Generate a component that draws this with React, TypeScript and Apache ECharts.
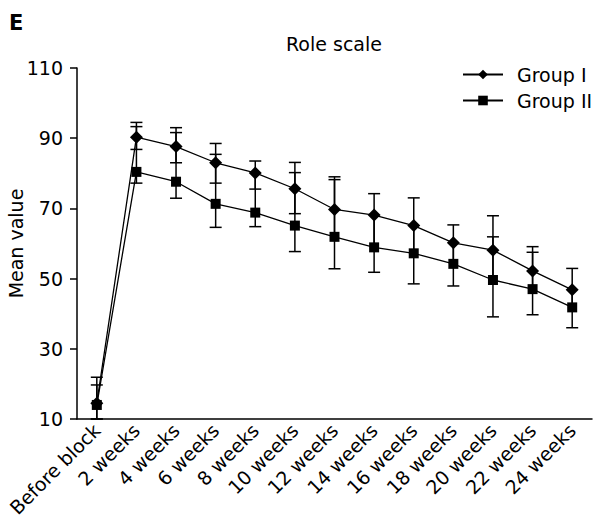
import React, { useEffect, useRef } from "react";
import * as echarts from "echarts";

const categories = [
  "Before block", "2 weeks", "4 weeks", "6 weeks", "8 weeks", "10 weeks", "12 weeks",
  "14 weeks", "16 weeks", "18 weeks", "20 weeks", "22 weeks", "24 weeks",
];
const groupI = [14.5, 90.3, 87.6, 83.0, 80.1, 75.6, 69.7, 68.1, 65.1, 60.2, 58.1, 52.2, 46.8];
const groupII = [14.0, 80.4, 77.6, 71.3, 68.8, 65.1, 61.9, 58.9, 57.2, 54.2, 49.6, 47.0, 41.8];
const groupIHigh = [21.9, 94.5, 93.0, 88.5, 83.5, 83.1, 79.0, 74.2, 73.0, 65.3, 67.9, 59.1, 52.9];
const groupILow: (number | null)[] = [10, 86.8, 83.0, 77.2, 75.5, 68.5, null, null, null, null, null, null, null];
const groupIIHigh: (number | null)[] = [19.7, 93.3, 91.6, 85.4, null, 80.2, 78.2, null, null, null, 61.9, 57.5, null];
const groupIILow = [10, 77.2, 72.9, 64.6, 64.8, 57.7, 52.8, 51.8, 48.5, 47.9, 39.1, 39.7, 36.0];
const yTicks = [10, 30, 50, 70, 90, 110];

const FONT = "'DejaVu Sans', 'Liberation Sans', Arial, sans-serif";
const FS = 19;

function errData(high: (number | null)[], low: (number | null)[], fallbackHigh: number[], fallbackLow: number[]) {
  return categories.map((_, i) => [
    i,
    low[i] ?? fallbackLow[i],
    high[i] ?? fallbackHigh[i],
    low[i] == null ? 0 : 1,
    high[i] == null ? 0 : 1,
  ]);
}

function renderErr(params: any, api: any) {
  const x = api.value(0);
  const lo = api.coord([x, api.value(1)]);
  const hi = api.coord([x, api.value(2)]);
  const half = 6;
  const style = { stroke: "#000", lineWidth: 1.5 };
  const children: any[] = [
    { type: "line", shape: { x1: lo[0], y1: lo[1], x2: hi[0], y2: hi[1] }, style },
  ];
  if (api.value(3)) {
    children.push({ type: "line", shape: { x1: lo[0] - half, y1: lo[1], x2: lo[0] + half, y2: lo[1] }, style });
  }
  if (api.value(4)) {
    children.push({ type: "line", shape: { x1: hi[0] - half, y1: hi[1], x2: hi[0] + half, y2: hi[1] }, style });
  }
  return { type: "group", children };
}

export default function App() {
  const ref = useRef<HTMLDivElement>(null);
  useEffect(() => {
    document.body.style.margin = "0";
    const chart = echarts.init(ref.current!, null, { renderer: "svg" });
    chart.setOption({
      animation: false,
      backgroundColor: "#fff",
      textStyle: { fontFamily: FONT, color: "#000" },
      title: {
        text: "Role scale",
        left: 286,
        top: 34,
        padding: 0,
        textStyle: { fontFamily: FONT, fontSize: FS, fontWeight: "normal", color: "#000" },
      },
      graphic: [
        {
          type: "text",
          left: 9,
          top: 12,
          style: { text: "E", fontSize: 21, fontWeight: "bold", fontFamily: FONT, fill: "#000" },
        },
      ],
      legend: {
        orient: "vertical",
        left: 462,
        top: 65,
        padding: 0,
        itemWidth: 40,
        itemHeight: 12,
        itemGap: 7,
        data: ["Group I", "Group II"],
        textStyle: { fontFamily: FONT, fontSize: FS, color: "#000", padding: [0, 0, 0, 9] },
      },
      grid: { left: 77, right: 2, top: 68, bottom: 103, containLabel: false, outerBoundsMode: "none" },
      xAxis: {
        type: "category",
        data: categories,
        boundaryGap: true,
        axisLine: { lineStyle: { color: "#000", width: 1.5 } },
        axisTick: { length: 7, lineStyle: { color: "#000", width: 1.5 }, interval: 0 },
        axisLabel: { rotate: 45, interval: 0, margin: 8, fontSize: FS, color: "#000", fontFamily: FONT },
      },
      yAxis: {
        type: "value",
        min: 10,
        max: 110,
        name: "Mean value",
        nameLocation: "middle",
        nameGap: 52,
        nameMoveOverlap: false,
        nameTextStyle: { fontSize: FS, color: "#000", fontFamily: FONT },
        splitLine: { show: false },
        axisLine: { show: true, lineStyle: { color: "#000", width: 1.5 } },
        axisTick: { show: true, length: 7, lineStyle: { color: "#000", width: 1.5 }, customValues: yTicks },
        axisLabel: { margin: 14, fontSize: FS, color: "#000", fontFamily: FONT, customValues: yTicks },
      },
      series: [
        {
          type: "custom",
          name: "errII",
          renderItem: renderErr,
          data: errData(groupIIHigh, groupIILow, groupI, groupII),
          encode: { x: 0, y: [1, 2] },
          z: 1,
          silent: true,
        },
        {
          type: "custom",
          name: "errI",
          renderItem: renderErr,
          data: errData(groupIHigh, groupILow, groupI, groupII),
          encode: { x: 0, y: [1, 2] },
          z: 1,
          silent: true,
        },
        {
          type: "line",
          name: "Group II",
          data: groupII,
          symbol: "rect",
          symbolSize: 10,
          itemStyle: { color: "#000" },
          lineStyle: { color: "#000", width: 1.3 },
          z: 3,
        },
        {
          type: "line",
          name: "Group I",
          data: groupI,
          symbol: "diamond",
          symbolSize: 13,
          itemStyle: { color: "#000" },
          lineStyle: { color: "#000", width: 1.3 },
          z: 4,
        },
      ],
    });
    return () => chart.dispose();
  }, []);
  return <div ref={ref} style={{ width: 594, height: 522 }} />;
}
